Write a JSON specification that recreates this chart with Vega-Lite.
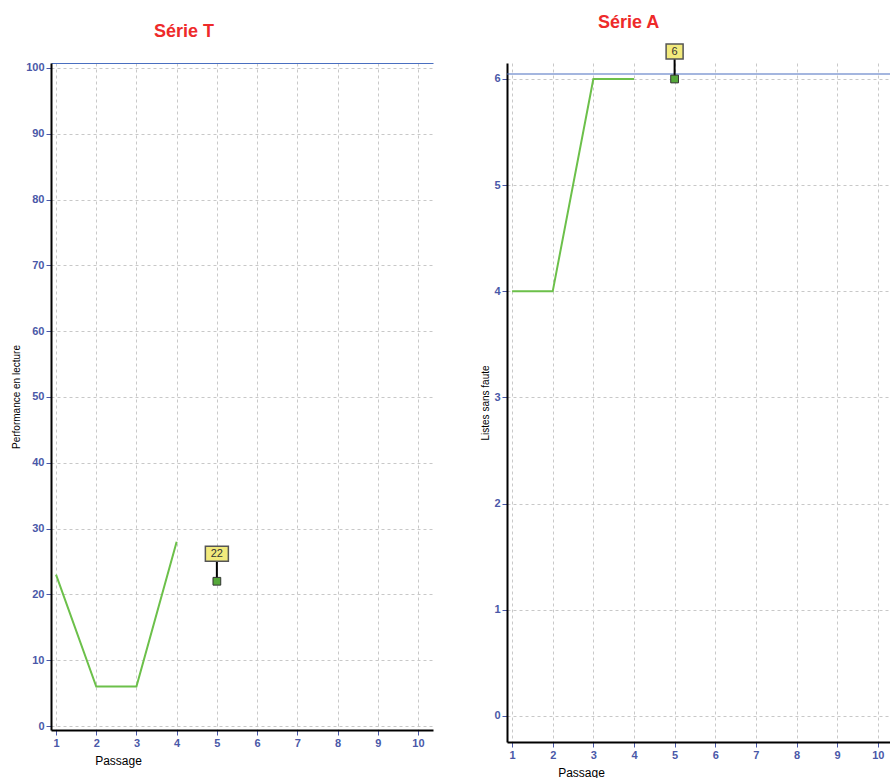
{
  "$schema": "https://vega.github.io/schema/vega-lite/v6.json",
  "padding": {"left": 11, "top": 14, "right": 0, "bottom": 0},
  "spacing": 47,
  "background": "white",
  "config": {
    "view": {"stroke": null},
    "font": "Liberation Sans",
    "axis": {
      "domainColor": "#000000",
      "domainWidth": 2,
      "tickColor": "#4a58a8",
      "tickWidth": 1,
      "labelColor": "#4a58a8",
      "labelFont": "Liberation Sans",
      "labelFontSize": 11,
      "labelFontWeight": "bold",
      "titleColor": "#000000",
      "titleFont": "Liberation Sans",
      "titleFontWeight": "normal",
      "gridColor": "#c8c8c8",
      "gridDash": [3, 3],
      "gridWidth": 1
    }
  },
  "datasets": {
    "serieT": [
      {"passage": 1, "score": 23},
      {"passage": 2, "score": 6},
      {"passage": 3, "score": 6},
      {"passage": 4, "score": 28}
    ],
    "serieTlast": [{"passage": 5, "score": 22, "label": "22"}],
    "serieA": [
      {"passage": 1, "score": 4},
      {"passage": 2, "score": 4},
      {"passage": 3, "score": 6},
      {"passage": 4, "score": 6}
    ],
    "serieAlast": [{"passage": 5, "score": 6, "label": "6"}]
  },
  "hconcat": [
    {
      "width": 382,
      "height": 667,
      "title": {"text": "Série T", "color": "#ee2a2a", "fontSize": 18, "fontWeight": "bold", "font": "Liberation Sans", "anchor": "start", "frame": "group", "dx": 103, "offset": 21},
      "resolve": {"axis": {"x": "independent"}},
      "layer": [
        {
          "data": {"name": "serieT"},
          "mark": {"type": "line", "color": "#6cc04a", "strokeWidth": 2},
          "encoding": {
            "x": {"field": "passage", "type": "quantitative",
              "scale": {"domain": [0.875, 10.375], "nice": false, "zero": false},
              "axis": {"orient": "bottom", "values": [1,2,3,4,5,6,7,8,9,10], "tickSize": 5, "labelPadding": 2, "title": "Passage", "titleFontSize": 12, "titleX": 67, "titleY": 30, "titleAlign": "center", "titleBaseline": "middle", "grid": true}},
            "y": {"field": "score", "type": "quantitative",
              "scale": {"domain": [-0.6, 100.75], "nice": false, "zero": false},
              "axis": {"values": [0,2.5,5,7.5,10,12.5,15,17.5,20,22.5,25,27.5,30,32.5,35,37.5,40,42.5,45,47.5,50,52.5,55,57.5,60,62.5,65,67.5,70,72.5,75,77.5,80,82.5,85,87.5,90,92.5,95,97.5,100],
                "labelExpr": "datum.value % 10 === 0 ? datum.label : ''",
                "tickSize": {"condition": {"test": "datum.value % 10 === 0", "value": 5}, "value": 2},
                "gridOpacity": {"condition": {"test": "datum.value % 10 === 0", "value": 1}, "value": 0},
                "grid": true, "labelPadding": 2, "title": "Performance en lecture", "titleFontSize": 10, "titlePadding": 4}}
          }
        },
        {
          "data": {"name": "serieTlast"},
          "mark": {"type": "rule", "color": "#000000", "strokeWidth": 2, "y2Offset": -20},
          "encoding": {
            "x": {"field": "passage", "type": "quantitative", "axis": {"orient": "top", "labels": false, "ticks": false, "grid": false, "title": null, "domainColor": "#4a6fc0", "domainWidth": 1.2}},
            "y": {"field": "score", "type": "quantitative"},
            "y2": {"field": "score"}
          }
        },
        {
          "data": {"name": "serieTlast"},
          "mark": {"type": "rect", "fill": "#f2ea7c", "stroke": "#555555", "strokeWidth": 1.5, "xOffset": -11.5, "x2Offset": 11.5, "yOffset": -35, "y2Offset": -20},
          "encoding": {
            "x": {"field": "passage", "type": "quantitative", "axis": null},
            "x2": {"field": "passage"},
            "y": {"field": "score", "type": "quantitative"},
            "y2": {"field": "score"}
          }
        },
        {
          "data": {"name": "serieTlast"},
          "mark": {"type": "text", "color": "#333333", "fontSize": 11, "font": "Liberation Sans", "baseline": "middle", "align": "center", "yOffset": -27},
          "encoding": {
            "x": {"field": "passage", "type": "quantitative", "axis": null},
            "y": {"field": "score", "type": "quantitative"},
            "text": {"field": "label"}
          }
        },
        {
          "data": {"name": "serieTlast"},
          "mark": {"type": "point", "shape": "square", "size": 60, "filled": true, "fill": "#55a83a", "stroke": "#333333", "strokeWidth": 1, "opacity": 1},
          "encoding": {
            "x": {"field": "passage", "type": "quantitative", "axis": null},
            "y": {"field": "score", "type": "quantitative"}
          }
        }
      ]
    },
    {
      "width": 386,
      "height": 679,
      "title": {"text": "Série A", "color": "#ee2a2a", "fontSize": 18, "fontWeight": "bold", "font": "Liberation Sans", "anchor": "start", "frame": "group", "dx": 91, "offset": 11},
      "layer": [
        {
          "data": {"name": "serieA"},
          "mark": {"type": "line", "color": "#6cc04a", "strokeWidth": 2},
          "encoding": {
            "x": {"field": "passage", "type": "quantitative",
              "scale": {"domain": [0.875, 10.375], "nice": false, "zero": false},
              "axis": {"orient": "bottom", "values": [1,2,3,4,5,6,7,8,9,10], "tickSize": 5, "labelPadding": 2, "title": "Passage", "titleFontSize": 12, "titleX": 74, "titleY": 30, "titleAlign": "center", "titleBaseline": "middle", "grid": true}},
            "y": {"field": "score", "type": "quantitative",
              "scale": {"domain": [-0.245, 6.1507], "nice": false, "zero": false},
              "axis": {"values": [0,1,2,3,4,5,6], "format": "d", "tickSize": 5, "grid": true, "labelPadding": 2, "title": "Listes sans faute", "titleFontSize": 10, "titlePadding": 3}}
          }
        },
        {
          "data": {"name": "serieAlast"},
          "mark": {"type": "rule", "color": "#4a6fc0", "strokeWidth": 1.2},
          "encoding": {
            "y": {"datum": 6.047, "type": "quantitative"}
          }
        },
        {
          "data": {"name": "serieAlast"},
          "mark": {"type": "rule", "color": "#000000", "strokeWidth": 2, "y2Offset": -20},
          "encoding": {
            "x": {"field": "passage", "type": "quantitative"},
            "y": {"field": "score", "type": "quantitative"},
            "y2": {"field": "score"}
          }
        },
        {
          "data": {"name": "serieAlast"},
          "mark": {"type": "rect", "fill": "#f2ea7c", "stroke": "#555555", "strokeWidth": 1.5, "xOffset": -8.5, "x2Offset": 8.5, "yOffset": -35, "y2Offset": -20},
          "encoding": {
            "x": {"field": "passage", "type": "quantitative"},
            "x2": {"field": "passage"},
            "y": {"field": "score", "type": "quantitative"},
            "y2": {"field": "score"}
          }
        },
        {
          "data": {"name": "serieAlast"},
          "mark": {"type": "text", "color": "#333333", "fontSize": 11, "font": "Liberation Sans", "baseline": "middle", "align": "center", "yOffset": -27},
          "encoding": {
            "x": {"field": "passage", "type": "quantitative"},
            "y": {"field": "score", "type": "quantitative"},
            "text": {"field": "label"}
          }
        },
        {
          "data": {"name": "serieAlast"},
          "mark": {"type": "point", "shape": "square", "size": 60, "filled": true, "fill": "#55a83a", "stroke": "#333333", "strokeWidth": 1, "opacity": 1},
          "encoding": {
            "x": {"field": "passage", "type": "quantitative"},
            "y": {"field": "score", "type": "quantitative"}
          }
        }
      ]
    }
  ]
}
